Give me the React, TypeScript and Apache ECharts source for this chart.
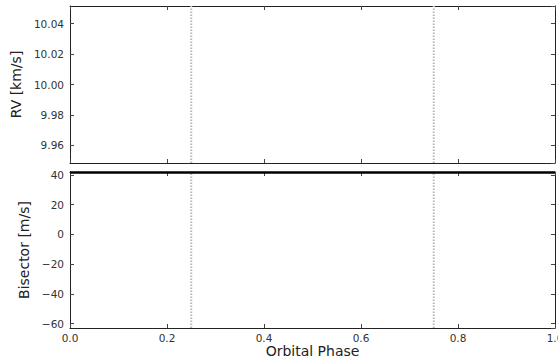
import React, { useEffect, useRef } from "react";
import * as echarts from "echarts";

// ---- data ----
const markerPhases = [0.25, 0.75];
const rvPhase: number[] = [];
const rvValues: number[] = [];
const bisPhase = [0.0, 0.25, 0.5, 0.75, 1.0];
const bisValues = [41.6, 41.6, 41.6, 41.6, 41.6];
const rvRange = [9.9485, 10.0515];
const bisRange = [-63, 42];

const FONT = "DejaVu Sans";
const minus = (s: string) => s.replace("-", "\u2212");

export default function App() {
  const ref = useRef<HTMLDivElement>(null);
  useEffect(() => {
    if (!ref.current) return;
    const chart = echarts.init(ref.current, null, { renderer: "svg" });
    const frame = { show: true, onZero: false, lineStyle: { color: "#222", width: 1 } };
    const tick = { show: true, inside: true, length: 4, lineStyle: { color: "#444", width: 1 } };
    const grids = [
      { left: 70, top: 6, width: 485, height: 157, outerBoundsMode: "none", containLabel: false },
      { left: 70, top: 172, width: 485, height: 156, outerBoundsMode: "none", containLabel: false },
    ];
    const mkX = (gi: number, pos: "bottom" | "top", labels: boolean, name?: string) => ({
      type: "value",
      gridIndex: gi,
      position: pos,
      min: 0,
      max: 1,
      interval: 0.2,
      axisLine: frame,
      axisTick: tick,
      splitLine: { show: false },
      axisLabel: {
        show: labels,
        color: "#333",
        fontFamily: FONT,
        fontSize: 10.5,
        margin: 4,
        formatter: (v: number) => v.toFixed(1),
      },
      name,
      nameLocation: "middle",
      nameGap: 14,
      nameTextStyle: { fontFamily: FONT, fontSize: 14, color: "#222" },
    });
    const mkY = (gi: number, pos: "left" | "right", range: number[], labels: boolean, dec: number, name?: string, gap?: number) => ({
      type: "value",
      gridIndex: gi,
      position: pos,
      min: range[0],
      max: range[1],
      splitNumber: 5,
      axisLine: frame,
      axisTick: tick,
      splitLine: { show: false },
      axisLabel: {
        show: labels,
        showMinLabel: false,
        showMaxLabel: false,
        color: "#333",
        fontFamily: FONT,
        fontSize: 10.5,
        margin: 6,
        formatter: (v: number) => minus(v.toFixed(dec)),
      },
      name,
      nameLocation: "middle",
      nameGap: gap,
      nameTextStyle: { fontFamily: FONT, fontSize: 14, color: "#222" },
    });
    const markerSeries = (xi: number, yi: number, range: number[]) =>
      markerPhases.map((p) => ({
        type: "line",
        xAxisIndex: xi,
        yAxisIndex: yi,
        data: [
          [p, range[0]],
          [p, range[1]],
        ],
        symbol: "none",
        silent: true,
        lineStyle: { color: "#b8b8b8", type: [1.5, 1.5], width: 2 },
      }));
    chart.setOption({
      animation: false,
      grid: grids,
      xAxis: [
        mkX(0, "bottom", false),
        mkX(0, "top", false),
        mkX(1, "bottom", true, "Orbital Phase"),
        mkX(1, "top", false),
      ],
      yAxis: [
        mkY(0, "left", rvRange, true, 2, "RV [km/s]", 38),
        mkY(0, "right", rvRange, false, 2),
        mkY(1, "left", bisRange, true, 0, "Bisector [m/s]", 34),
        mkY(1, "right", bisRange, false, 0),
      ],
      series: [
        ...markerSeries(0, 0, rvRange),
        ...markerSeries(2, 2, bisRange),
        {
          type: "line",
          xAxisIndex: 0,
          yAxisIndex: 0,
          data: rvPhase.map((p, i) => [p, rvValues[i]]),
          symbol: "none",
        },
        {
          type: "line",
          xAxisIndex: 2,
          yAxisIndex: 2,
          data: bisPhase.map((p, i) => [p, bisValues[i]]),
          symbol: "none",
          lineStyle: { color: "#000", width: 2.5 },
        },
      ],
    });
    return () => chart.dispose();
  }, []);
  return (
    <div
      ref={ref}
      style={{ position: "fixed", left: 0, top: 0, width: 558, height: 362, background: "#fff" }}
    />
  );
}
